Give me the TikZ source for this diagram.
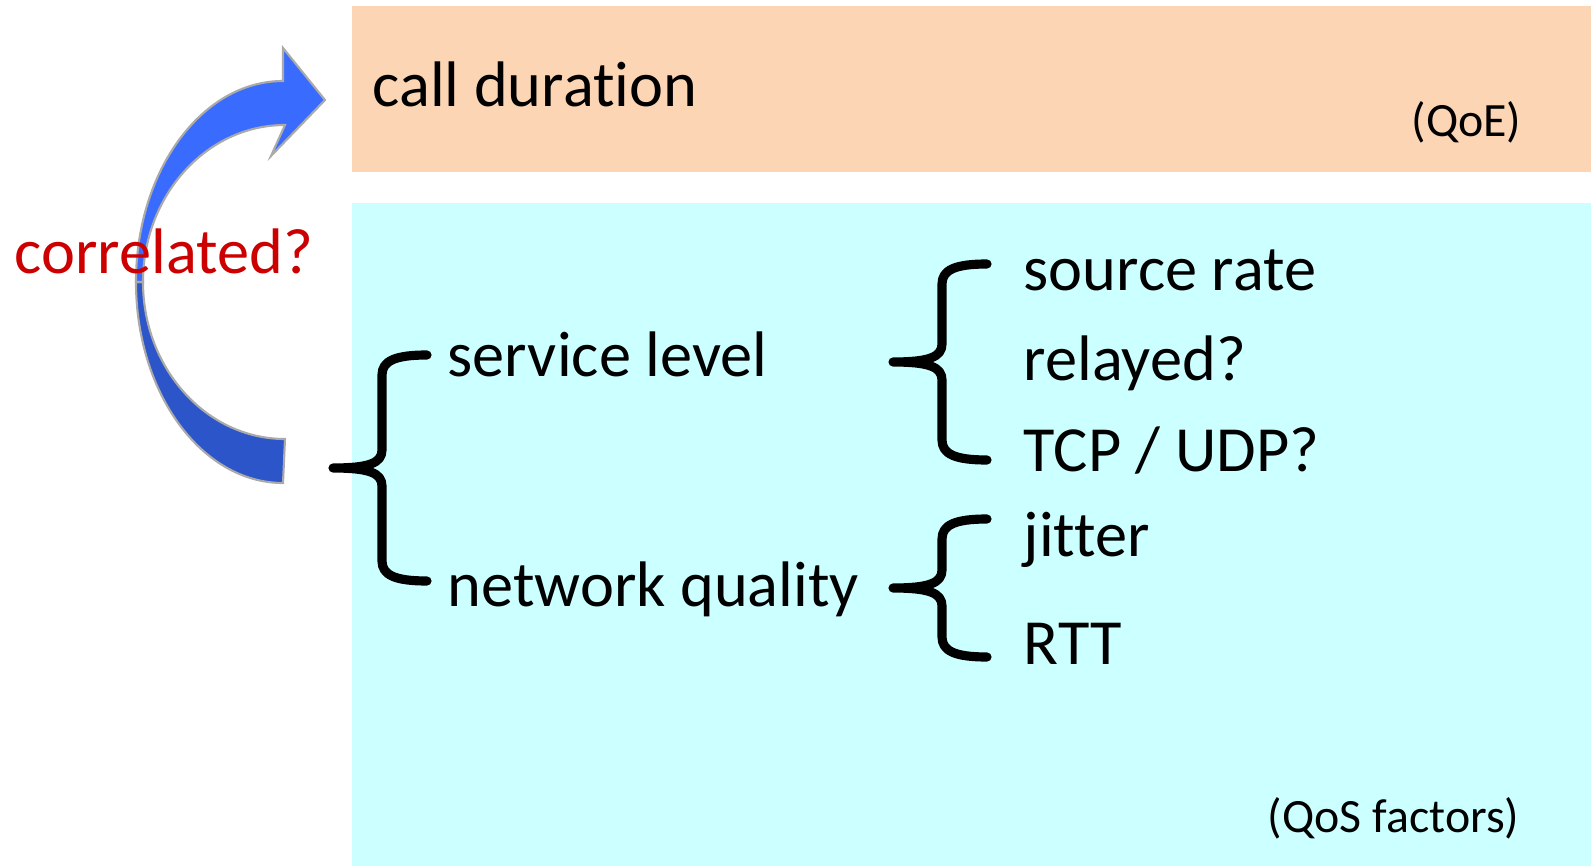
\documentclass[tikz,border=0pt]{standalone}
\usepackage{fontspec}
\setmainfont{Carlito}[Ligatures=NoCommon]
\usepackage{xcolor}
\definecolor{peach}{RGB}{252, 213, 180}
\definecolor{aqua}{RGB}{204, 255, 255}
\definecolor{brightblue}{RGB}{ 58, 107, 255}
\definecolor{deepblue}{RGB}{ 43,  85, 200}
\definecolor{rimgrey}{RGB}{170, 170, 170}
\definecolor{alarm}{RGB}{204,   0,   0}
\usepackage{tikz}
\usetikzlibrary{positioning}
\tikzset{
  bigtext/.style={inner sep=0pt, font=\fontsize{18.3}{22}\selectfont},
  smalltext/.style={inner sep=0pt, font=\fontsize{13.6}{16}\selectfont},
  asktext/.style={bigtext, text=alarm},
  bracepen/.style={line width=2.6pt, line cap=round, line join=round},
  arrowpart/.style={draw=rimgrey, line width=0.6pt},
  pics/curly/.style={code={
    \draw[bracepen] (94,#1) .. controls (62,#1) and (49,#1-6) .. (49,#1-20)
      -- (49,18) .. controls (49,5) and (36,0) .. (0,0)
      .. controls (36,0) and (49,-5) .. (49,-18)
      -- (49,-#1+20) .. controls (49,-#1+6) and (62,-#1) .. (94,-#1);
  }}
}
\begin{document}
\begin{tikzpicture}[x=0.01cm, y=0.01cm]
  \useasboundingbox (0,0) rectangle (1591,866);

  % panels
  \fill[peach] (352,694) rectangle (1591,860);
  \fill[aqua] (352,0) rectangle (1591,663);

  % curved arrow
  \filldraw[arrowpart, fill=deepblue] (283,383)
    arc[start angle=270, end angle=180, x radius=147, y radius=201]
    -- (143,584)
    arc[start angle=180, end angle=270, x radius=142, y radius=157] -- cycle;
  \filldraw[arrowpart, fill=brightblue] (136,584)
    arc[start angle=180, end angle=90, x radius=147, y radius=201]
    -- (283,818) -- (325,766) -- (271,710) -- (285,741)
    arc[start angle=90, end angle=180, x radius=142, y radius=157] -- cycle;

  % texts
  \node[bigtext, anchor=base west] (qoe) at (372,759) {call duration};
  \node[smalltext, anchor=base east] (qoetag) at (1522,729) {(QoE)};
  \node[asktext, anchor=base west] (corr) at (14,592) {correlated?};
  \node[bigtext, anchor=base west] (svc) at (447,489) {service level};
  \node[bigtext, anchor=base west] (net) at (447,260) {network quality};
  \node[bigtext, anchor=base west] (src) at (1023,576) {source rate};
  \node[bigtext, anchor=base west] (rly) at (1023,486) {relayed?};
  \node[bigtext, anchor=base west] (tcp) at (1023,395) {TCP / UDP?};
  \node[bigtext, anchor=base west] (jit) at (1023,310) {jitter};
  \node[bigtext, anchor=base west] (rtt) at (1023,202) {RTT};
  \node[smalltext, anchor=base east] (qostag) at (1520,34) {(QoS factors)};

  % braces
  \pic at (333,398) {curly=113};
  \pic at (893,504) {curly=98};
  \pic at (893,278) {curly=69};
\end{tikzpicture}
\end{document}
